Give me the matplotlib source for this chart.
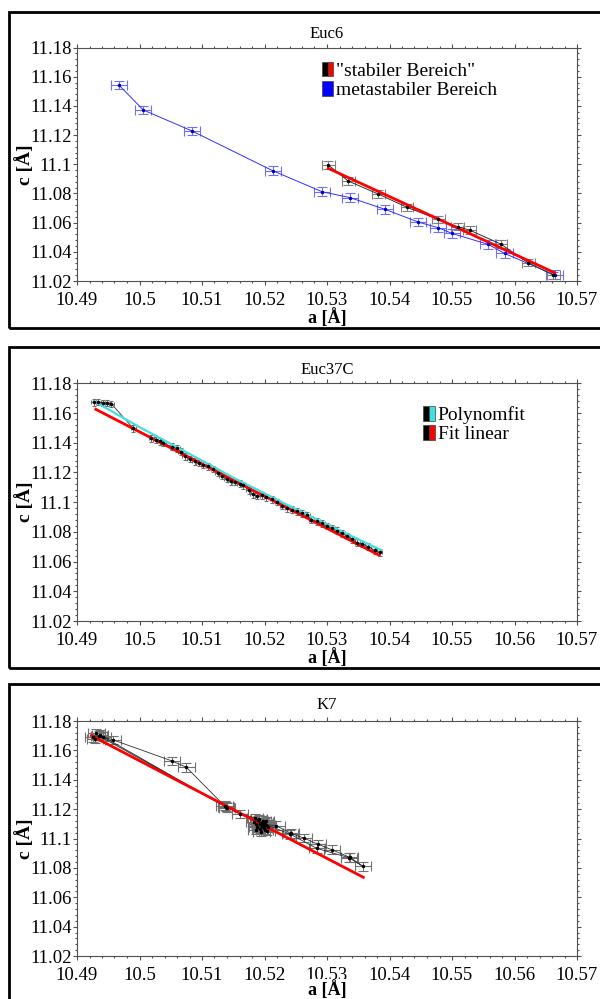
import numpy as np
import matplotlib
matplotlib.use("Agg")
import matplotlib.pyplot as plt
from matplotlib.patches import Patch, Rectangle
from matplotlib.legend_handler import HandlerTuple
from matplotlib.ticker import MultipleLocator, FuncFormatter

plt.rcParams['font.family'] = ['Liberation Serif', 'DejaVu Serif']

# --- Euc6 ---
meta_a = [10.4967, 10.5006, 10.5084, 10.5213, 10.5292, 10.5337, 10.5393,
          10.5446, 10.5478, 10.5500, 10.5558, 10.5584, 10.5664]
meta_c = [11.1543, 11.1372, 11.1228, 11.0956, 11.0812, 11.0771, 11.0691,
          11.0604, 11.0565, 11.0526, 11.0451, 11.0389, 11.0243]
stab_a = [10.5302, 10.5334, 10.5382, 10.5428, 10.5478, 10.5509, 10.5528,
          10.5578, 10.5622, 10.5662]
stab_c = [11.0995, 11.0885, 11.0796, 11.0705, 11.0622, 11.0572, 11.0549,
          11.0453, 11.0325, 11.0240]
euc6_fit_a = [10.5302, 10.5664]
euc6_fit_c = [11.0972, 11.0257]

# --- Euc37C ---
e37_a = [10.4927, 10.4934, 10.4941, 10.4948, 10.4955, 10.4990, 10.5019,
         10.5026, 10.5032, 10.5038, 10.5052, 10.5060, 10.5066, 10.5072,
         10.5080, 10.5088, 10.5095, 10.5102, 10.5110, 10.5118, 10.5125,
         10.5132, 10.5140, 10.5146, 10.5152, 10.5160, 10.5166, 10.5175,
         10.5181, 10.5188, 10.5196, 10.5203, 10.5212, 10.5220, 10.5228,
         10.5236, 10.5244, 10.5252, 10.5260, 10.5268, 10.5275, 10.5284,
         10.5292, 10.5300, 10.5308, 10.5316, 10.5324, 10.5332, 10.5340,
         10.5348, 10.5356, 10.5366, 10.5376, 10.5384]
e37_c = [11.1672, 11.1675, 11.1668, 11.1666, 11.1662, 11.1497, 11.1430,
         11.1418, 11.1409, 11.1398, 11.1373, 11.1362, 11.1340, 11.1308,
         11.1292, 11.1275, 11.1262, 11.1252, 11.1240, 11.1222, 11.1195,
         11.1178, 11.1156, 11.1140, 11.1136, 11.1125, 11.1113, 11.1080,
         11.1052, 11.1040, 11.1045, 11.1032, 11.1018, 11.1000, 11.0975,
         11.0958, 11.0950, 11.0938, 11.0925, 11.0912, 11.0882, 11.0870,
         11.0858, 11.0840, 11.0826, 11.0808, 11.0790, 11.0772, 11.0750,
         11.0728, 11.0718, 11.0700, 11.0676, 11.0662]
e37_poly_a = [10.4927, 10.5000, 10.5080, 10.5150, 10.5230, 10.5310, 10.5386]
e37_poly_c = [11.1680, 11.1505, 11.1325, 11.1165, 11.0995, 11.0830, 11.0678]
e37_lin_a = [10.4930, 10.5383]
e37_lin_c = [11.1625, 11.0644]

# --- K7 ---
k7_a = [10.4931, 10.4926, 10.4937, 10.4929, 10.4942, 10.5138, 10.5161,
        10.5185, 10.5192, 10.5188, 10.5197, 10.5200, 10.5203, 10.5195,
        10.5190, 10.5206, 10.5198, 10.5193, 10.5201, 10.5187, 10.5183,
        10.5196, 10.5204, 10.5191, 10.5199, 10.5186, 10.5202, 10.5194,
        10.5219, 10.5242, 10.5263, 10.5285, 10.5308, 10.5336, 10.5357,
        10.5335, 10.5284, 10.5241, 10.5199, 10.5140, 10.4935, 10.4958,
        10.5052, 10.5075, 10.5136]
k7_c = [11.1716, 11.1690, 11.1706, 11.1678, 11.1693, 11.1217, 11.1167,
        11.1140, 11.1105, 11.1080, 11.1120, 11.1060, 11.1095, 11.1045,
        11.1125, 11.1075, 11.1088, 11.1068, 11.1110, 11.1098, 11.1115,
        11.1082, 11.1052, 11.1132, 11.1072, 11.1060, 11.1118, 11.1100,
        11.1087, 11.1035, 11.1003, 11.0962, 11.0923, 11.0873, 11.0812,
        11.0870, 11.0932, 11.1030, 11.1100, 11.1210, 11.1700, 11.1671,
        11.1528, 11.1485, 11.1222]
k7_fit_a = [10.4923, 10.5358]
k7_fit_c = [11.1700, 11.0736]

W, H = 600, 999
fig = plt.figure(figsize=(W / 100, H / 100), dpi=100)

# axes boxes in pixels: (top, bottom), frames: (top, bottom)
axes_px = [(47.5, 281), (383.3, 621), (721, 956)]
frames_px = [(12, 328), (347, 668), (684, 1010)]
titles = ["Euc6", "Euc37C", "K7"]
title_y = [33.5, 370, 705]
xlabel_off = [27, 27, 24]
left_px, right_px = 77, 577

fmt = FuncFormatter(lambda v, p: ('%.2f' % v).rstrip('0').rstrip('.'))

axes = []
for (top, bot), (ftop, fbot), t, ty, off in zip(axes_px, frames_px, titles,
                                                title_y, xlabel_off):
    fig.patches.append(Rectangle((9 / W, 1 - fbot / H), 1.2, (fbot - ftop) / H,
                                 transform=fig.transFigure, fill=False,
                                 lw=2, ec='black', clip_on=False))
    ax = fig.add_axes([left_px / W, 1 - bot / H, (right_px - left_px) / W, (bot - top) / H])
    ax.set_xlim(10.49, 10.57)
    ax.set_ylim(11.02, 11.18)
    ax.xaxis.set_major_locator(MultipleLocator(0.01))
    ax.xaxis.set_minor_locator(MultipleLocator(0.002))
    ax.yaxis.set_major_locator(MultipleLocator(0.02))
    ax.yaxis.set_minor_locator(MultipleLocator(0.004))
    ax.xaxis.set_major_formatter(fmt)
    ax.yaxis.set_major_formatter(fmt)
    ax.tick_params(which='both', direction='out', top=True, right=True,
                   color='#505050', width=0.8, labelsize=13.5)
    ax.tick_params(which='major', length=3)
    ax.tick_params(which='minor', length=1.5)
    ax.tick_params(axis='x', pad=5)
    ax.tick_params(axis='y', pad=1)
    for s in ax.spines.values():
        s.set_color('#505050')
        s.set_linewidth(0.8)
    # the label box sits slightly over the lower edge of the tick labels
    ax.set_xlabel('a [Å]', fontsize=13, fontweight='bold',
                  bbox=dict(fc='white', ec='none', pad=0.5))
    ax.xaxis.set_label_coords(0.5, -off / (bot - top))
    ax.text(-52 / 500, 0.5, 'c [Å]', transform=ax.transAxes, rotation=90,
            ha='center', va='center', fontsize=14, fontweight='bold')
    fig.text((left_px + right_px) / 2 / W, 1 - ty / H, t, ha='center',
             va='center', fontsize=12)
    axes.append(ax)

err_kw = dict(fmt='o', ms=1.5, capsize=3.5, elinewidth=0.8, capthick=0.8)
leg_kw = dict(handler_map={tuple: HandlerTuple(ndivide=None, pad=0)},
              loc='upper left', frameon=False, fontsize=14, handlelength=0.6,
              handleheight=0.8, handletextpad=0.15, labelspacing=0.05,
              borderaxespad=0, borderpad=0)

# Euc6
ax = axes[0]
ax.errorbar(meta_a, meta_c, xerr=0.0013, yerr=0.003, color='#2020ff', mfc='#0000c0',
            mec='#0000c0', ecolor='#7070ff', **err_kw)
ax.plot(meta_a, meta_c, color='#3030ff', lw=0.7)
ax.errorbar(stab_a, stab_c, xerr=0.001, yerr=0.0025, color='black', ecolor='#808080', **err_kw)
ax.plot(stab_a, stab_c, color='#303030', lw=0.7)
ax.plot(euc6_fit_a, euc6_fit_c, color='red', lw=2)
h1 = (Patch(fc='black', ec='#404040', lw=0.5), Patch(fc='red', ec='#404040', lw=0.5))
h2 = Patch(fc='blue', ec='#404040', lw=0.5)
ax.legend([h1, h2], ['"stabiler Bereich"', 'metastabiler Bereich'],
          bbox_to_anchor=((321.7 - 77) / 500, 0.94), **leg_kw)

# Euc37C
ax = axes[1]
ax.errorbar(e37_a, e37_c, xerr=0.0004, yerr=0.0022, color='black', ecolor='#707070',
            **dict(err_kw, capsize=1.5))
ax.plot(e37_a, e37_c, color='#303030', lw=0.6)
ax.plot(e37_lin_a, e37_lin_c, color='red', lw=2)
ax.plot(e37_poly_a, e37_poly_c, color='#40e0e0', lw=1.6)
h1 = (Patch(fc='black', ec='#404040', lw=0.5), Patch(fc='#40e0e0', ec='#404040', lw=0.5))
h2 = (Patch(fc='black', ec='#404040', lw=0.5), Patch(fc='red', ec='#404040', lw=0.5))
ax.legend([h1, h2], ['Polynomfit', 'Fit linear'],
          bbox_to_anchor=((423 - 77) / 500, 0.905), **leg_kw)

# K7
ax = axes[2]
ax.errorbar(k7_a, k7_c, xerr=0.0013, yerr=0.003, color='black', ecolor='#707070', **err_kw)
ax.plot(k7_a, k7_c, color='#303030', lw=0.6)
ax.plot(k7_fit_a, k7_fit_c, color='red', lw=2)

fig.savefig('out.png', dpi=100)
